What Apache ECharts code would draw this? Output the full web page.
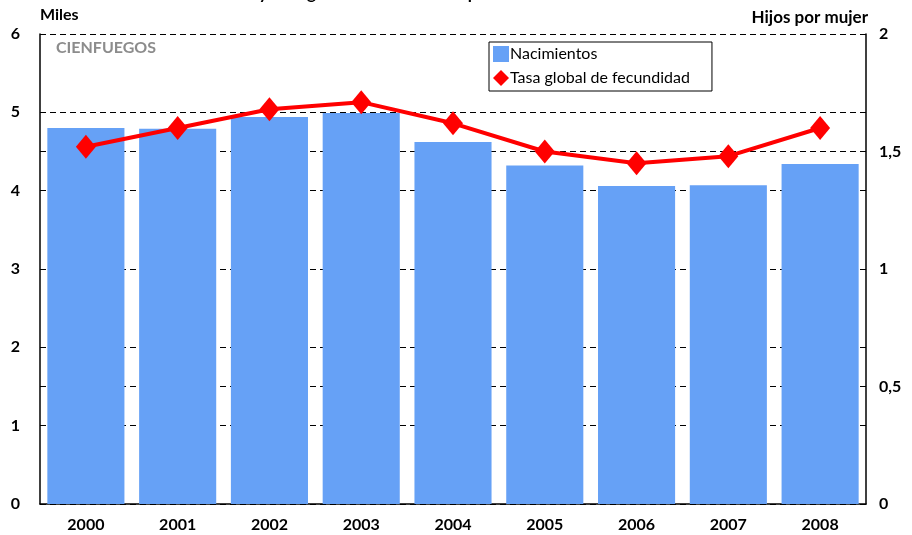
<!DOCTYPE html>
<html>
<head>
<meta charset="utf-8">
<script src="https://cdn.jsdelivr.net/npm/echarts@6/dist/echarts.min.js"></script>
<style>html,body{margin:0;padding:0;background:#fff}#c{width:912px;height:535px}</style>
</head>
<body>
<div id="c"></div>
<script>
var years = ['2000','2001','2002','2003','2004','2005','2006','2007','2008'];
var births = [4.80, 4.79, 4.94, 4.99, 4.62, 4.32, 4.06, 4.07, 4.34];
var tgf = [1.52, 1.60, 1.68, 1.71, 1.62, 1.50, 1.45, 1.48, 1.60];
var leftTicks = [0, 1, 2, 3, 4, 5, 6];
var rightTicks = ['0', '0,5', '1', '1,5', '2'];

var FONT = 'Lato';
var chart = echarts.init(document.getElementById('c'));
chart.setOption({
  animation: false,
  grid: {left: 40, right: 46, top: 34, bottom: 31, containLabel: false},
  graphic: [
    {type: 'text', left: 40, top: 7, style: {text: 'Miles', font: 'bold 16px ' + FONT, fill: '#000'}},
    {type: 'text', right: 44, top: 9, style: {text: 'Hijos por mujer', font: 'bold 17px ' + FONT, fill: '#000'}},
    {type: 'text', left: 56, top: 40, style: {text: 'CIENFUEGOS', font: 'bold 16px ' + FONT, fill: '#8c8c8c'}},
    {type: 'text', x: 160, y: 2, style: {text: 'Nacimientos y tasa global de fecundidad por años', font: 'bold 17px ' + FONT, fill: '#000', verticalAlign: 'bottom'}}
  ],
  legend: {
    left: 489, top: 42, orient: 'vertical',
    backgroundColor: '#fff', borderColor: '#000', borderWidth: 1,
    padding: [4, 22, 5, 4], itemGap: 8, itemWidth: 16, itemHeight: 16,
    textStyle: {fontFamily: FONT, fontSize: 16, color: '#000', padding: [0,0,0,-4]},
    data: [
      {name: 'Nacimientos', icon: 'rect'},
      {name: 'Tasa global de fecundidad', icon: 'diamond', itemStyle: {color: '#ff0000'}}
    ]
  },
  xAxis: {
    type: 'category', data: years,
    axisLine: {lineStyle: {color: '#000', width: 1.5}},
    axisTick: {show: false},
    axisLabel: {fontFamily: FONT, fontWeight: 'bold', fontSize: 16, color: '#000', margin: 13}
  },
  yAxis: [
    {type: 'value', min: 0, max: 6, interval: 1, position: 'left',
     axisLine: {show: true, lineStyle: {color: '#000', width: 1.5}},
     axisTick: {show: false},
     axisLabel: {fontFamily: FONT, fontWeight: 'bold', fontSize: 16, color: '#000', margin: 20,
       formatter: function (v) { return String(leftTicks[Math.round(v)]); }},
     splitLine: {show: true, lineStyle: {color: '#000', type: [6, 4], width: 1}}
    },
    {type: 'value', min: 0, max: 2, interval: 0.5, position: 'right',
     axisLine: {show: true, lineStyle: {color: '#000', width: 1.5}},
     axisTick: {show: false},
     axisLabel: {fontFamily: FONT, fontWeight: 'bold', fontSize: 16, color: '#000', margin: 13,
       formatter: function (v) { return rightTicks[Math.round(v * 2)]; }},
     splitLine: {show: true, lineStyle: {color: '#000', type: [6, 4], width: 1}}
    }
  ],
  series: [
    {name: 'Nacimientos', type: 'bar', data: births, barWidth: '84%', yAxisIndex: 0,
     itemStyle: {color: '#66a1f6'}, z: 2},
    {name: 'Tasa global de fecundidad', type: 'line', data: tgf, yAxisIndex: 1,
     symbol: 'diamond', symbolSize: [20, 24], lineStyle: {color: '#ff0000', width: 4},
     itemStyle: {color: '#ff0000'}, z: 5}
  ]
});
</script>
</body>
</html>
